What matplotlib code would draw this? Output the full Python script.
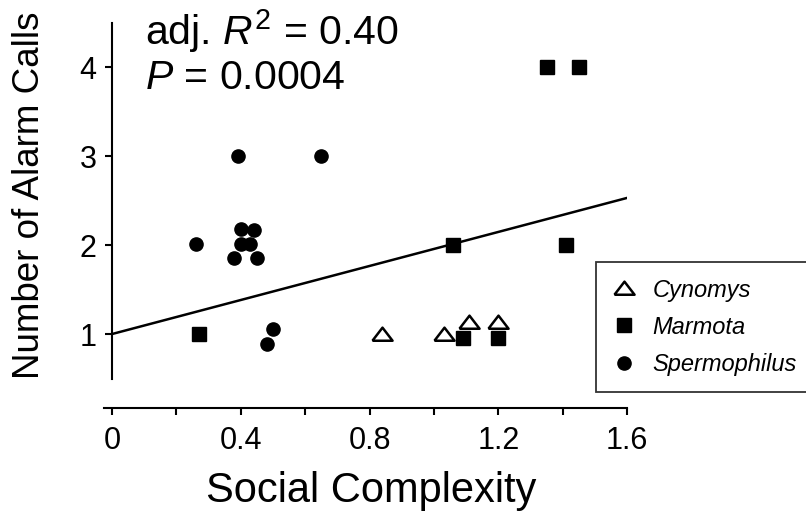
import numpy as np
import matplotlib
matplotlib.use("Agg")
import matplotlib.pyplot as plt
from matplotlib.ticker import FixedLocator, FixedFormatter

plt.rcParams['font.family'] = ['Liberation Sans', 'DejaVu Sans']
plt.rcParams['mathtext.fontset'] = 'custom'
plt.rcParams['mathtext.rm'] = 'Liberation Sans'
plt.rcParams['mathtext.it'] = 'Liberation Sans:italic'

# data
cyn_x = [0.84, 1.03, 1.11, 1.20]
cyn_y = [1.00, 1.00, 1.13, 1.13]

mar_x = [0.27, 1.35, 1.45, 1.06, 1.41, 1.09, 1.20]
mar_y = [1.00, 4.00, 4.00, 2.00, 2.00, 0.95, 0.95]

spe_x = [0.39, 0.65, 0.26, 0.40, 0.44, 0.40, 0.43, 0.38, 0.45, 0.50, 0.48]
spe_y = [3.00, 3.00, 2.01, 2.18, 2.17, 2.01, 2.01, 1.86, 1.86, 1.06, 0.89]

fit_x = [0.0, 1.6]
fit_y = [1.0, 2.53]

x_major = [0, 0.4, 0.8, 1.2, 1.6]
x_major_labels = ['0', '0.4', '0.8', '1.2', '1.6']
x_minor = [0.2, 0.6, 1.0, 1.4]
y_ticks = [1, 2, 3, 4]

fig = plt.figure(figsize=(8.06, 5.21), dpi=100)
ax = fig.add_axes([0.129, 0.2735, 0.649, 0.683])

# wide, flat open triangle
tri = [(-1, -0.62), (1, -0.62), (0, 0.68), (-1, -0.62)]

ax.plot(fit_x, fit_y, color='black', lw=1.8, zorder=2)
ax.plot(cyn_x, cyn_y, linestyle='none', marker=tri, ms=14.5, mfc='white',
        mec='black', mew=1.8, label='Cynomys', zorder=3)
ax.plot(mar_x, mar_y, linestyle='none', marker='s', ms=10, mfc='black',
        mec='black', label='Marmota', zorder=3)
ax.plot(spe_x, spe_y, linestyle='none', marker='o', ms=9.5, mfc='black',
        mec='black', label='Spermophilus', zorder=3)

ax.set_xlim(-0.025, 1.6)
ax.set_ylim(0.5, 4.5)

ax.spines['top'].set_visible(False)
ax.spines['right'].set_visible(False)
ax.spines['left'].set_position(('data', 0))
ax.spines['bottom'].set_position(('outward', 21))
for s in ('left', 'bottom'):
    ax.spines[s].set_linewidth(1.5)

ax.xaxis.set_major_locator(FixedLocator(x_major))
ax.xaxis.set_major_formatter(FixedFormatter(x_major_labels))
ax.xaxis.set_minor_locator(FixedLocator(x_minor))
ax.set_yticks(y_ticks)
ax.tick_params(axis='both', which='both', direction='out', length=5, width=1.5,
               labelsize=22)
ax.tick_params(axis='x', which='both', pad=8)
ax.tick_params(axis='y', pad=6)

ax.set_xlabel('Social Complexity', fontsize=30)
ax.set_ylabel('Number of Alarm Calls', fontsize=26.5)
ax.xaxis.set_label_coords(0.51, -0.315)
ax.xaxis.label.set_va('center')
ax.yaxis.set_label_coords(-0.143, 0.515)
ax.yaxis.label.set_va('center')

ax.text(0.078, 0.937, r'adj. $R^2$ = 0.40', transform=ax.transAxes,
        fontsize=29.5, va='baseline', ha='left')
ax.text(0.078, 0.813, r'$P$ = 0.0004', transform=ax.transAxes,
        fontsize=29.5, va='baseline', ha='left')

leg = ax.legend(loc='upper left', bbox_to_anchor=(0.739, 0.497),
                bbox_transform=fig.transFigure, borderaxespad=0,
                fancybox=False, frameon=True, handlelength=1.0,
                handletextpad=0.7, labelspacing=0.6, borderpad=0.7,
                prop={'style': 'italic', 'size': 17})
leg.get_frame().set_edgecolor('black')
leg.get_frame().set_linewidth(1.3)

fig.savefig('out.png', dpi=100)
